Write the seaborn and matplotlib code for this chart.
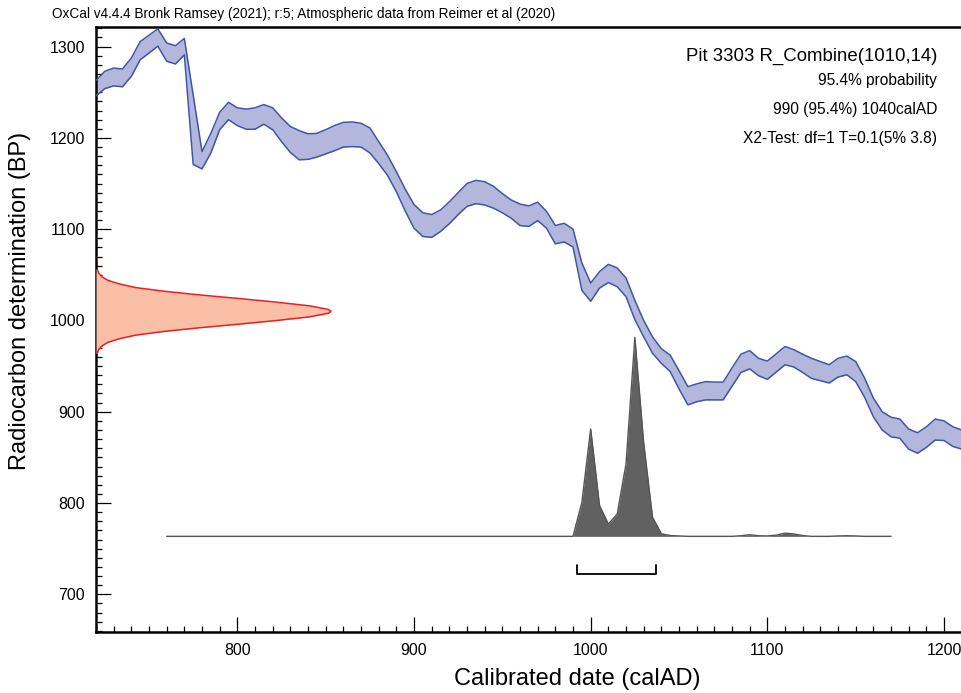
import numpy as np
import pandas as pd
import matplotlib
matplotlib.use("Agg")
import matplotlib.pyplot as plt
from matplotlib.ticker import MultipleLocator
import seaborn as sns

# ---------------- data ----------------
cal_years = [720, 725, 730, 735, 740, 745, 750, 755, 760, 765, 770, 775, 780, 785, 790, 795,
             800, 805, 810, 815, 820, 825, 830, 835, 840, 845, 850, 855, 860, 865, 870, 875,
             880, 885, 890, 895, 900, 905, 910, 915, 920, 925, 930, 935, 940, 945, 950, 955,
             960, 965, 970, 975, 980, 985, 990, 995, 1000, 1005, 1010, 1015, 1020, 1025, 1030,
             1035, 1040, 1045, 1050, 1055, 1060, 1065, 1070, 1075, 1080, 1085, 1090, 1095, 1100,
             1105, 1110, 1115, 1120, 1125, 1130, 1135, 1140, 1145, 1150, 1155, 1160, 1165, 1170,
             1175, 1180, 1185, 1190, 1195, 1200, 1205, 1210]
cal_upper = [1263, 1273, 1276.5, 1275.5, 1287.5, 1305.5, 1312.5, 1319.5, 1304, 1301, 1309, 1247,
             1185, 1205, 1228, 1239, 1233, 1231.5, 1233, 1236.5, 1233, 1222, 1212.5, 1208,
             1204.5, 1205, 1209, 1213.5, 1217, 1217.5, 1216, 1211, 1196, 1181, 1163, 1144,
             1127, 1118, 1116, 1121, 1130, 1140, 1150, 1153.5, 1152, 1147, 1139, 1132,
             1127.5, 1125.5, 1129.5, 1119.5, 1104, 1106.5, 1100, 1063, 1041, 1053.5, 1061.5,
             1057.5, 1046.5, 1022, 1000, 982, 969, 962, 945, 927.5, 930.5, 933, 932.5, 932.5,
             948, 963, 967, 958.5, 955.5, 963.5, 971.5, 968, 963, 958.5, 955, 951.5, 958.5,
             961, 955, 937, 915, 900, 894, 892, 881, 877, 883.5, 892, 890, 883.5, 880]
cal_lower = [1246, 1254, 1257, 1256, 1267.5, 1285.5, 1293, 1300.5, 1284, 1281, 1291, 1171,
             1166, 1183.5, 1209, 1220, 1213.5, 1209.5, 1209.5, 1215, 1209, 1196, 1184, 1176,
             1176.5, 1179, 1182.5, 1186, 1190, 1190.5, 1190, 1183.5, 1172, 1159, 1141, 1120,
             1101, 1092, 1091, 1097.5, 1106, 1116, 1125, 1128, 1126.5, 1123, 1118, 1112,
             1104, 1103, 1109.5, 1101, 1084, 1086, 1080.5, 1033, 1021, 1035.5, 1041.5,
             1037, 1026, 1001, 982, 964, 953, 944, 925, 907.5, 911, 913, 913, 913,
             928, 943, 947, 939.5, 935.5, 943.5, 951.5, 949, 943, 936.5, 934, 931.5, 938,
             940.5, 933, 916, 894.5, 880, 872.5, 871, 859, 854.5, 861, 869, 868.5, 862, 859]

# measurement distribution R_Combine(1010,14) (relative probability vs BP)
meas_bp = [1056, 1052, 1048, 1044, 1040, 1036, 1032, 1028, 1024, 1020, 1016, 1012, 1010,
           1008, 1004, 1000, 996, 992, 988, 984, 980, 976, 972, 968, 964]
meas_prob = [0.005, 0.011, 0.025, 0.05, 0.10, 0.17, 0.29, 0.44, 0.61, 0.77, 0.91, 0.99, 1.0,
             0.99, 0.91, 0.77, 0.61, 0.44, 0.29, 0.17, 0.10, 0.05, 0.025, 0.011, 0.005]

# calibrated posterior (relative probability vs calendar year)
post_years = [760, 985, 990, 995, 1000, 1005, 1010, 1015, 1020, 1025, 1030, 1035, 1040, 1045,
              1050, 1055, 1080, 1085, 1090, 1095, 1100, 1105, 1110, 1115, 1120, 1125, 1135,
              1140, 1145, 1150, 1155, 1170]
post_prob = [0, 0, 0, 0.17, 0.54, 0.155, 0.062, 0.112, 0.364, 1.0, 0.47, 0.096, 0.013, 0.004,
             0.002, 0, 0, 0.003, 0.008, 0.003, 0.002, 0.006, 0.016, 0.012, 0.004, 0, 0,
             0.002, 0.003, 0.002, 0, 0]

range_95 = [992, 1037]

header = "OxCal v4.4.4 Bronk Ramsey (2021); r:5; Atmospheric data from Reimer et al (2020)"
title = "Pit 3303 R_Combine(1010,14)"
info_lines = ["95.4% probability", "990 (95.4%) 1040calAD", "X2-Test: df=1 T=0.1(5% 3.8)"]
xlabel = "Calibrated date (calAD)"
ylabel = "Radiocarbon determination (BP)"
xticks = [800, 900, 1000, 1100, 1200]
yticks = [700, 800, 900, 1000, 1100, 1200, 1300]

# ---------------- style ----------------
sns.set_theme(style="white")
plt.rcParams["font.family"] = ["Liberation Sans", "DejaVu Sans"]
plt.rcParams["text.color"] = "black"
plt.rcParams["axes.labelcolor"] = "black"
plt.rcParams["xtick.color"] = "black"
plt.rcParams["ytick.color"] = "black"

XLIM = (720, 1209.6)
YLIM = (658.7, 1321.5)
BASE = 763.5        # baseline of posterior (display)
POST_H = 218.0      # display height of posterior peak
MEAS_W = 133.0      # display width of measurement peak

fig = plt.figure(figsize=(9.61, 6.93), dpi=100)
ax = fig.add_axes([96 / 961, 1 - 632 / 693, 1 - 96 / 961, (632 - 27) / 693])

cal = pd.DataFrame({"year": cal_years, "upper": cal_upper, "lower": cal_lower})
blue_edge = "#3F56A8"
ax.fill_between(cal["year"], cal["lower"], cal["upper"], color="#B4B7DC", lw=0, zorder=2)
sns.lineplot(data=cal, x="year", y="upper", color=blue_edge, lw=1.1, ax=ax, zorder=3)
sns.lineplot(data=cal, x="year", y="lower", color=blue_edge, lw=1.1, ax=ax, zorder=3)

# measurement distribution on the y axis
meas = pd.DataFrame({"bp": meas_bp, "w": np.array(meas_prob) * MEAS_W + XLIM[0]})
ax.fill_betweenx(meas["bp"], XLIM[0], meas["w"], color="#F9C0A7", lw=0, zorder=4)
sns.lineplot(data=meas, x="w", y="bp", sort=False, orient="y", color="#EE1C25", lw=1.1,
             ax=ax, zorder=5)

# posterior
post = pd.DataFrame({"year": post_years, "h": BASE + np.array(post_prob) * POST_H})
ax.fill_between(post["year"], BASE, post["h"], color="#616161", lw=0, zorder=4)
sns.lineplot(data=post, x="year", y="h", color="#555555", lw=1.0, ax=ax, zorder=5)

# 95.4% range bracket
ax.plot([range_95[0], range_95[0], range_95[1], range_95[1]], [732, 722, 722, 732],
        color="black", lw=1.3, zorder=5)

ax.set_xlim(*XLIM)
ax.set_ylim(*YLIM)
ax.set_xticks(xticks)
ax.set_yticks(yticks)
ax.xaxis.set_minor_locator(MultipleLocator(10))
ax.yaxis.set_minor_locator(MultipleLocator(10))
ax.tick_params(which="major", direction="in", length=10.5, width=0.9, color="black",
               labelcolor="black", labelsize=11.4, pad=8, left=True, bottom=True,
               top=False, right=False)
ax.tick_params(which="minor", direction="in", length=4.5, width=0.9, color="black",
               left=True, bottom=True, top=False, right=False)
for s in ["left", "bottom", "top"]:
    ax.spines[s].set_linewidth(1.8)
    ax.spines[s].set_color("black")
ax.spines["right"].set_visible(False)
ax.set_xlabel("")
ax.set_ylabel("")
ax.grid(False)

fig.text(577 / 961, 1 - 679 / 693, xlabel, fontsize=17, ha="center", va="center")
fig.text(20 / 961, 1 - 301 / 693, ylabel, fontsize=17, ha="center", va="center",
         rotation=90)

fig.text(52 / 961, 1 - 14 / 693, header, fontsize=9.8, va="center")
fig.text(937 / 961, 1 - 61 / 693, title, fontsize=13.4, ha="right", va="baseline")
for txt, yb in zip(info_lines, [85, 114, 143]):
    fig.text(937 / 961, 1 - yb / 693, txt, fontsize=11.2, ha="right", va="baseline")

fig.savefig("out.png", dpi=100)
